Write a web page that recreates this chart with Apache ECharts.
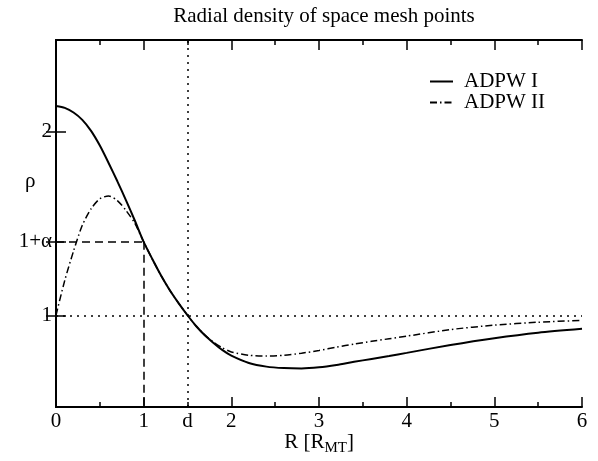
<!DOCTYPE html>
<html>
<head>
<meta charset="utf-8">
<script src="https://cdn.jsdelivr.net/npm/echarts@6/dist/echarts.min.js"></script>
<style>html,body{margin:0;padding:0;background:#fff}#c{width:598px;height:461px}</style>
</head>
<body>
<div id="c"></div>
<script>
// Data
const rI   = [0, 0.1, 0.2, 0.3, 0.4, 0.5, 0.6, 0.7, 0.8, 0.9, 1.0, 1.1, 1.2, 1.3, 1.4, 1.5, 1.6, 1.7, 1.8, 1.9, 2.0, 2.2, 2.4, 2.6, 2.8, 3.0, 3.2, 3.4, 3.6, 3.8, 4.0, 4.5, 5.0, 5.5, 6.0];
const rhoI = [2.14, 2.13, 2.105, 2.065, 2.005, 1.925, 1.83, 1.73, 1.625, 1.515, 1.40, 1.305, 1.215, 1.135, 1.065, 1.0, 0.94, 0.89, 0.848, 0.81, 0.78, 0.74, 0.72, 0.712, 0.71, 0.716, 0.729, 0.746, 0.762, 0.778, 0.795, 0.838, 0.875, 0.905, 0.926];
const rII   = [0, 0.1, 0.2, 0.3, 0.4, 0.5, 0.6, 0.7, 0.8, 0.9, 1.0, 1.1, 1.2, 1.3, 1.4, 1.5, 1.6, 1.7, 1.8, 1.9, 2.0, 2.2, 2.4, 2.6, 2.8, 3.0, 3.2, 3.4, 3.6, 3.8, 4.0, 4.5, 5.0, 5.5, 6.0];
const rhoII = [1.0, 1.19, 1.35, 1.49, 1.58, 1.635, 1.65, 1.625, 1.57, 1.50, 1.40, 1.305, 1.215, 1.135, 1.065, 1.0, 0.94, 0.892, 0.852, 0.822, 0.80, 0.782, 0.778, 0.782, 0.793, 0.808, 0.826, 0.843, 0.858, 0.872, 0.886, 0.922, 0.946, 0.962, 0.972];
const seriesNames = ['ADPW I', 'ADPW II'];
const D = 1.5;          // position "d"
const ALPHA = 0.4;      // 1+alpha level
const R_ONE = 1;
const xLabelValues = [0, 1, D, 2, 3, 4, 5, 6];
const yTickValues = [1, 1 + ALPHA, 2];
const xRange = [0, 6];
const yRange = [0.5, 2.5];

const FONT = 'Liberation Serif';
const FS = 21;
const pairs = (xs, ys) => xs.map((x, i) => [x, ys[i]]);

const chart = echarts.init(document.getElementById('c'));
const axisLine = {show: true, lineStyle: {color: '#000', width: 2}};
chart.setOption({
  animation: false,
  title: {
    text: 'Radial density of space mesh points',
    left: 319, top: 1, textAlign: 'center',
    textStyle: {fontFamily: FONT, fontSize: FS, fontWeight: 'normal', color: '#000'}
  },
  legend: {
    data: seriesNames,
    orient: 'vertical',
    left: 429, top: 71, padding: 0,
    itemWidth: 23, itemHeight: 14, itemGap: 0,
    itemStyle: {opacity: 0},
    textStyle: {fontFamily: FONT, fontSize: FS, lineHeight: 21, color: '#000', padding: [0, 0, 0, 6]}
  },
  graphic: [{
    type: 'text', left: 25, top: 171,
    style: {text: 'ρ', font: FS + 'px "' + FONT + '"', fill: '#000'}
  }],
  grid: {left: 56, right: 16, top: 40, bottom: 54, outerBoundsMode: 'none', containLabel: false},
  xAxis: [{
    type: 'value', min: xRange[0], max: xRange[1], interval: 1,
    axisLine: axisLine,
    axisTick: {inside: true, length: 10, lineStyle: {color: '#000', width: 1.5}},
    minorTick: {show: true, splitNumber: 2, length: 5, lineStyle: {color: '#000', width: 1.5}},
    axisLabel: {
      customValues: xLabelValues,
      formatter: v => (v === D ? 'd' : String(v)),
      fontFamily: FONT, fontSize: FS, color: '#000', margin: 4
    },
    splitLine: {show: false},
    name: 'R [R{sub|MT}]',
    nameLocation: 'middle', nameGap: 22, nameMoveOverlap: false,
    nameTextStyle: {fontFamily: FONT, fontSize: FS, color: '#000',
      rich: {sub: {fontFamily: FONT, fontSize: 15, color: '#000', padding: [12, 0, 0, 0]}}}
  }, {
    type: 'value', position: 'top', min: xRange[0], max: xRange[1], interval: 1,
    axisLine: axisLine,
    axisTick: {inside: true, length: 10, lineStyle: {color: '#000', width: 1.5}},
    minorTick: {show: true, splitNumber: 2, length: 5, lineStyle: {color: '#000', width: 1.5}},
    axisLabel: {show: false}, splitLine: {show: false}
  }],
  yAxis: [{
    type: 'value', min: yRange[0], max: yRange[1],
    axisLine: axisLine,
    axisTick: {inside: true, length: 10, customValues: yTickValues, lineStyle: {color: '#000', width: 1.5}},
    axisLabel: {
      customValues: yTickValues,
      formatter: v => (Math.abs(v - (1 + ALPHA)) < 1e-9 ? '1+α' : String(v)),
      fontFamily: FONT, fontSize: FS, color: '#000', margin: 4
    },
    splitLine: {show: false}
  }, {
    type: 'value', position: 'right', min: yRange[0], max: yRange[1],
    axisLine: axisLine,
    axisTick: {inside: true, length: 10, customValues: yTickValues, lineStyle: {color: '#000', width: 1.5}},
    axisLabel: {show: false}, splitLine: {show: false}
  }],
  series: [{
    name: seriesNames[0], type: 'line', smooth: 0.25, showSymbol: false, symbol: 'none',
    data: pairs(rI, rhoI),
    lineStyle: {color: '#000', width: 2, type: 'solid'},
    itemStyle: {color: '#000'},
    z: 5,
    markLine: {
      silent: true, symbol: 'none', label: {show: false},
      lineStyle: {color: '#000', width: 1.5, type: [2, 5]},
      data: [
        {xAxis: D},
        {yAxis: 1}
      ]
    }
  }, {
    name: seriesNames[1], type: 'line', smooth: 0.25, showSymbol: false, symbol: 'none',
    data: pairs(rII, rhoII),
    lineStyle: {color: '#000', width: 1.5, type: [7, 3, 1.5, 3]},
    itemStyle: {color: '#000'},
    z: 4,
    markLine: {
      silent: true, symbol: 'none', label: {show: false},
      lineStyle: {color: '#000', width: 1.5, type: [8, 5]},
      data: [
        [{coord: [xRange[0], 1 + ALPHA]}, {coord: [R_ONE, 1 + ALPHA]}],
        [{coord: [R_ONE, 1 + ALPHA]}, {coord: [R_ONE, yRange[0]]}]
      ]
    }
  }]
});
</script>
</body>
</html>
